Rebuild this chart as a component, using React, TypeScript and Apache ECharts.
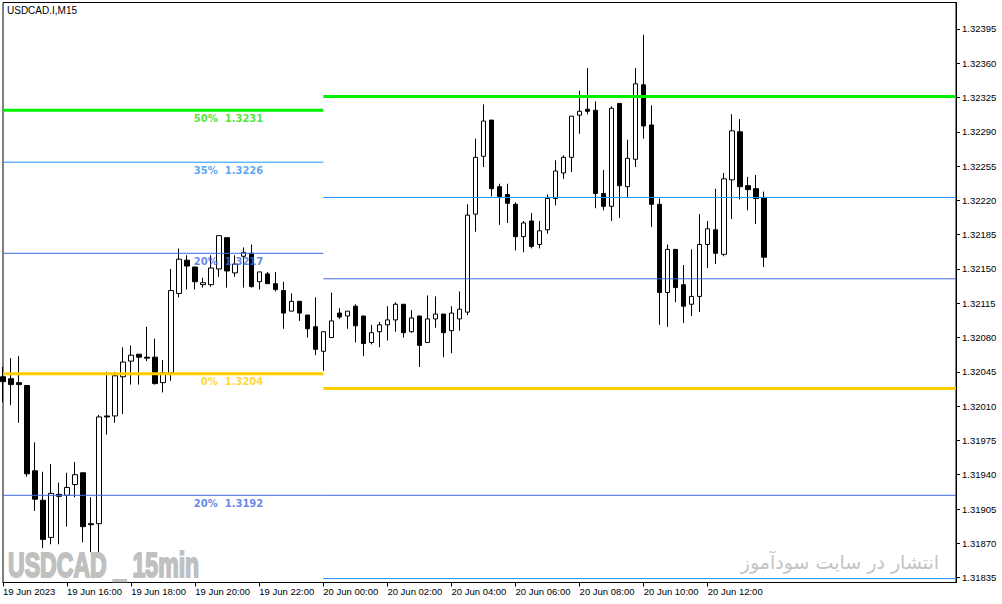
import React, { useEffect, useRef } from "react";
import * as echarts from "echarts";

// x-axis tick labels, one every 8 bars (2 hours of M15)
const timeLabels = [
  "19 Jun 2023", "19 Jun 16:00", "19 Jun 18:00", "19 Jun 20:00", "19 Jun 22:00",
  "20 Jun 00:00", "20 Jun 02:00", "20 Jun 04:00", "20 Jun 06:00", "20 Jun 08:00",
  "20 Jun 10:00", "20 Jun 12:00",
];
const BARS_PER_LABEL = 8;
const TOTAL_SLOTS = 120;

const yTicks = [
  1.31835, 1.3187, 1.31905, 1.3194, 1.31975, 1.3201, 1.32045, 1.3208, 1.32115,
  1.3215, 1.32185, 1.3222, 1.32255, 1.3229, 1.32325, 1.3236, 1.32395,
];
const Y_MIN = 1.3183;
const Y_MAX = 1.32422;

const opens = [
  1.3204, 1.32038, 1.32034, 1.32031, 1.31944, 1.31914, 1.31876, 1.3192, 1.31919, 1.3193,
  1.31942, 1.3189, 1.3189, 1.32, 1.32, 1.3204, 1.32056, 1.32063, 1.3206, 1.3206,
  1.32034, 1.32044, 1.32125, 1.32159, 1.32152, 1.32134, 1.32134, 1.3215, 1.32182, 1.32146,
  1.32163, 1.32166, 1.32137, 1.32145, 1.32135, 1.32128, 1.32107, 1.32117, 1.32103, 1.32091,
  1.32066, 1.3208, 1.32105, 1.32102, 1.32112, 1.32102, 1.32075, 1.32086, 1.32093, 1.32098,
  1.32114, 1.32086, 1.32102, 1.32075, 1.32099, 1.32104, 1.32087, 1.32099, 1.32106, 1.32206,
  1.32265, 1.32302, 1.32234, 1.32226, 1.32216, 1.32183, 1.32199, 1.32175, 1.3219, 1.32222,
  1.32248, 1.32264, 1.32307, 1.32313, 1.32312, 1.32227, 1.32214, 1.32319, 1.32234, 1.32262,
  1.32338, 1.32297, 1.32216, 1.32126, 1.3217, 1.32134, 1.32114, 1.32122, 1.32175, 1.3219,
  1.32165, 1.32241, 1.3229, 1.32235, 1.32232, 1.32223,
];
const closes = [
  1.32035, 1.32032, 1.32032, 1.31941, 1.31915, 1.31874, 1.31921, 1.31918, 1.31927, 1.3194,
  1.31887, 1.31889, 1.31999, 1.31999, 1.32041, 1.32055, 1.32062, 1.3206, 1.32059, 1.32033,
  1.32044, 1.32128, 1.3216, 1.32153, 1.32137, 1.32136, 1.32151, 1.32184, 1.32148, 1.32155,
  1.32167, 1.32132, 1.32147, 1.32135, 1.32129, 1.32105, 1.32117, 1.32105, 1.32089, 1.32068,
  1.32086, 1.32097, 1.32101, 1.32107, 1.32092, 1.32074, 1.32085, 1.32093, 1.32098, 1.32114,
  1.32085, 1.321, 1.32072, 1.32099, 1.32104, 1.32085, 1.32105, 1.32109, 1.32205, 1.32264,
  1.32301, 1.32232, 1.32224, 1.32217, 1.32183, 1.32197, 1.32173, 1.32189, 1.32222, 1.3225,
  1.32264, 1.32306, 1.32311, 1.32311, 1.32227, 1.32214, 1.32314, 1.32235, 1.32263, 1.32339,
  1.32296, 1.32216, 1.32126, 1.3217, 1.32131, 1.32112, 1.32122, 1.32175, 1.32191, 1.32166,
  1.32242, 1.32291, 1.32234, 1.32231, 1.32222, 1.32162,
];
const lows = [
  1.32014, 1.32011, 1.31993, 1.31938, 1.31903, 1.31865, 1.31869, 1.31869, 1.31887, 1.31917,
  1.31871, 1.31861, 1.3186, 1.31981, 1.31993, 1.32002, 1.32032, 1.32032, 1.32056, 1.32032,
  1.32024, 1.32036, 1.32121, 1.32129, 1.32129, 1.32131, 1.32132, 1.32142, 1.32131, 1.32142,
  1.32131, 1.32131, 1.32129, 1.32135, 1.32127, 1.32089, 1.32107, 1.32097, 1.3208, 1.32062,
  1.32046, 1.3208, 1.32099, 1.32089, 1.32075, 1.32061, 1.32073, 1.3207, 1.32077, 1.32086,
  1.3208, 1.32085, 1.3205, 1.32075, 1.3209, 1.3206, 1.32064, 1.32087, 1.32103, 1.32188,
  1.32254, 1.32224, 1.32195, 1.32197, 1.32169, 1.32167, 1.32171, 1.32171, 1.32186, 1.32215,
  1.32242, 1.32249, 1.32288, 1.32308, 1.32212, 1.3221, 1.32199, 1.32202, 1.32223, 1.32254,
  1.32283, 1.32193, 1.32093, 1.32091, 1.32116, 1.32095, 1.32102, 1.32106, 1.32151, 1.32155,
  1.32163, 1.32201, 1.32221, 1.3221, 1.32196, 1.32152,
];
const highs = [
  1.3205, 1.32059, 1.32061, 1.32031, 1.31973, 1.31943, 1.31951, 1.31932, 1.31942, 1.31953,
  1.31942, 1.31917, 1.32001, 1.32045, 1.32045, 1.3207, 1.32072, 1.32063, 1.32091, 1.32079,
  1.32057, 1.3215, 1.32171, 1.32164, 1.32152, 1.32141, 1.32164, 1.32184, 1.32182, 1.32164,
  1.32172, 1.32175, 1.32147, 1.32147, 1.32147, 1.32137, 1.32125, 1.32117, 1.32103, 1.32121,
  1.32086, 1.32126, 1.3211, 1.32107, 1.32114, 1.32102, 1.32093, 1.32096, 1.32112, 1.32116,
  1.32114, 1.32108, 1.32102, 1.32123, 1.32122, 1.32104, 1.32112, 1.32127, 1.32216, 1.32283,
  1.32318, 1.32302, 1.32237, 1.32237, 1.32218, 1.32199, 1.32207, 1.32199, 1.32226, 1.32261,
  1.32266, 1.32306, 1.32332, 1.32355, 1.32321, 1.32251, 1.32316, 1.32319, 1.32282, 1.32355,
  1.32389, 1.32317, 1.32222, 1.32175, 1.3217, 1.32154, 1.3217, 1.32206, 1.32199, 1.32232,
  1.32248, 1.32308, 1.32303, 1.32244, 1.32246, 1.32229,
];

// Level lines: previous session (bars 0..40) and current session (bars 40..119)
const SESSION_SPLIT = 40;
const leftLevelValues = [1.32312, 1.32259, 1.32166, 1.32043, 1.31919];
const leftLevelNames = ["50%  1.3231", "35%  1.3226", "20%  1.3217", "0%  1.3204", "20%  1.3192"];
const rightLevelValues = [1.32326, 1.32223, 1.3214, 1.32028, 1.31919, 1.31834];
const LABEL_BAR = 32;

const leftColors = ["#00f000", "#1e90ff", "#4169e1", "#ffcc00", "#4169e1"];
const leftWidths = [3, 1, 1, 3, 1];
const rightColors = ["#00f000", "#1e90ff", "#4169e1", "#ffcc00", "#4169e1", "#1e90ff"];
const rightWidths = [3, 1, 1, 3, 1, 1];
const labelColors = ["#22e000", "#2f8ff0", "#4169e1", "#ffcc00", "#4169e1"];

export default function App() {
  const ref = useRef<HTMLDivElement>(null);
  useEffect(() => {
    document.body.style.margin = "0";
    if (!ref.current) return;
    const chart = echarts.init(ref.current, undefined, { renderer: "svg" });

    const categories: string[] = [];
    for (let i = 0; i < TOTAL_SLOTS; i++) {
      const k = i / BARS_PER_LABEL;
      categories.push(i % BARS_PER_LABEL === 0 && k < timeLabels.length ? timeLabels[k] : "");
    }
    const showIdx = (i: number) => i % BARS_PER_LABEL === 0 && i / BARS_PER_LABEL < timeLabels.length;

    const candleData = opens.map((o, i) => [o, closes[i], lows[i], highs[i]]);

    const levelSeries: any[] = [];
    leftLevelValues.forEach((v, i) => {
      levelSeries.push({
        type: "line",
        data: [[0, v], [SESSION_SPLIT, v]],
        symbol: "none",
        silent: true,
        z: 5,
        lineStyle: { color: leftColors[i], width: leftWidths[i], cap: "butt" },
      });
    });
    rightLevelValues.forEach((v, i) => {
      levelSeries.push({
        type: "line",
        data: [[SESSION_SPLIT, v], [TOTAL_SLOTS - 1, v]],
        symbol: "none",
        silent: true,
        z: 5,
        lineStyle: { color: rightColors[i], width: rightWidths[i], cap: "butt" },
      });
    });
    const labelSeries = {
      type: "scatter",
      symbolSize: 1,
      silent: true,
      z: 6,
      itemStyle: { color: "rgba(0,0,0,0)" },
      data: leftLevelValues.map((v, i) => ({
        value: [LABEL_BAR, v],
        name: leftLevelNames[i],
        label: {
          show: true,
          position: "inside",
          align: "right",
          verticalAlign: "middle",
          offset: [4, 8],
          formatter: leftLevelNames[i],
          color: labelColors[i],
          fontFamily: "DejaVu Sans",
          fontWeight: "bold",
          fontSize: 10,
        },
      })),
    };

    chart.setOption({
      animation: false,
      backgroundColor: "#ffffff",
      grid: {
        left: 3,
        right: 46,
        top: 2.5,
        bottom: 21.5,
        show: true,
        borderColor: "#000000",
        borderWidth: 1,
        backgroundColor: "#ffffff",
      },
      xAxis: {
        type: "category",
        data: categories,
        boundaryGap: false,
        axisLine: { show: true, lineStyle: { color: "#000", width: 1 } },
        axisTick: { show: true, interval: (i: number) => showIdx(i), length: 4, lineStyle: { color: "#000" } },
        axisLabel: {
          show: true,
          interval: (i: number) => showIdx(i),
          align: "left",
          margin: 4,
          color: "#000",
          fontFamily: "Liberation Sans",
          fontSize: 9.5,
        },
        splitLine: { show: false },
      },
      yAxis: {
        type: "value",
        position: "right",
        min: Y_MIN,
        max: Y_MAX,
        scale: true,
        axisLine: { show: true, lineStyle: { color: "#000", width: 1 } },
        axisTick: { show: true, customValues: yTicks, length: 4, lineStyle: { color: "#000" } },
        axisLabel: {
          show: true,
          customValues: yTicks,
          formatter: (v: number) => v.toFixed(5),
          margin: 6,
          color: "#000",
          fontFamily: "Liberation Sans",
          fontSize: 9.5,
        },
        splitLine: { show: false },
      },
      graphic: [
        {
          type: "text",
          x: 7,
          y: 10,
          style: {
            text: "USDCAD.I,M15",
            fontFamily: "Liberation Sans",
            fontSize: 10,
            fill: "#000",
            verticalAlign: "middle",
          },
          z: 10,
        },
        {
          type: "text",
          x: 8,
          y: 565,
          scaleX: 0.66,
          style: {
            text: "USDCAD _ 15min",
            fontFamily: "Liberation Sans",
            fontWeight: "bold",
            fontSize: 35,
            fill: "#c0c0c0",
            stroke: "#c0c0c0",
            lineWidth: 2,
            verticalAlign: "middle",
          },
          z: 10,
        },
        {
          type: "text",
          x: 840,
          y: 562,
          style: {
            text: "انتشار در سایت سودآموز",
            fontFamily: "DejaVu Sans",
            fontSize: 19,
            fill: "#c4c4c4",
            align: "center",
            verticalAlign: "middle",
          },
          z: 10,
        },
      ],
      series: [
        {
          type: "candlestick",
          data: candleData,
          barWidth: 5,
          z: 3,
          itemStyle: {
            color: "#ffffff",
            color0: "#000000",
            borderColor: "#000000",
            borderColor0: "#000000",
            borderWidth: 1,
          },
        },
        ...levelSeries,
        labelSeries,
      ],
    });
    return () => chart.dispose();
  }, []);
  return <div ref={ref} style={{ width: "1002px", height: "604px" }} />;
}
